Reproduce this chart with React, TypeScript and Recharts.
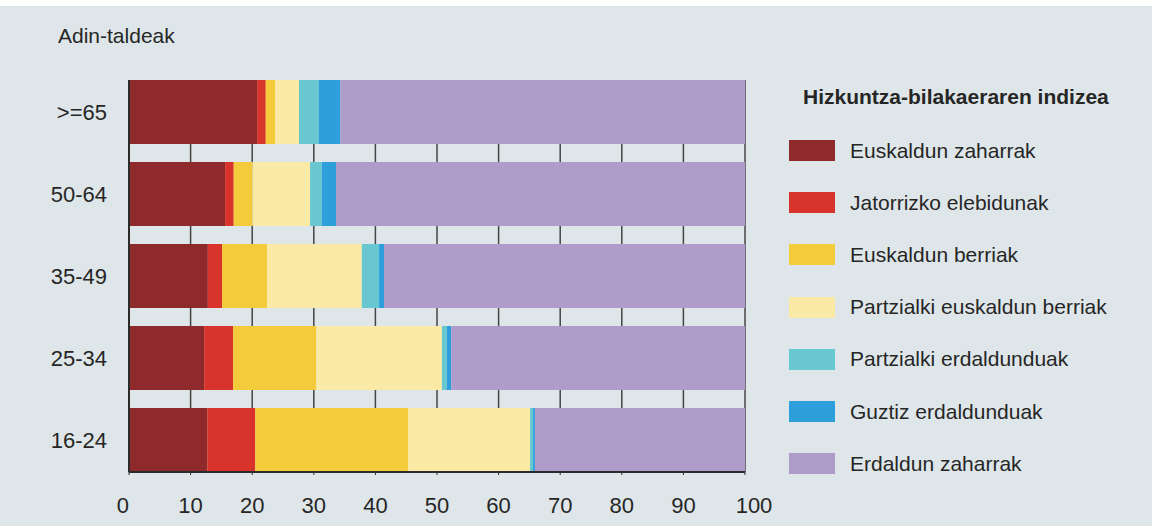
import { Bar, BarChart, CartesianGrid, Legend, XAxis, YAxis } from "recharts";

const ageGroups = [">=65", "50-64", "35-49", "25-34", "16-24"];

const euskaldunZaharrak = [20.8, 15.6, 12.8, 12.2, 12.7];
const jatorrizkoElebidunak = [1.4, 1.4, 2.3, 4.7, 7.8];
const euskaldunBerriak = [1.5, 3.0, 7.3, 13.5, 24.8];
const partzialkiEuskaldunBerriak = [3.9, 9.4, 15.4, 20.4, 19.8];
const partzialkiErdaldunduak = [3.2, 1.9, 2.8, 0.8, 0.5];
const guztizErdaldunduak = [3.5, 2.3, 0.8, 0.7, 0.3];
const erdaldunZaharrak = [65.7, 66.4, 58.6, 47.7, 34.1];

const xTicks = [0, 10, 20, 30, 40, 50, 60, 70, 80, 90, 100];

const SERIES = [
  { key: "ez", name: "Euskaldun zaharrak", color: "#8e2a2b", values: euskaldunZaharrak },
  { key: "je", name: "Jatorrizko elebidunak", color: "#d9342b", values: jatorrizkoElebidunak },
  { key: "eb", name: "Euskaldun berriak", color: "#f3cb3b", values: euskaldunBerriak },
  { key: "peb", name: "Partzialki euskaldun berriak", color: "#fbe9a6", values: partzialkiEuskaldunBerriak },
  { key: "pe", name: "Partzialki erdaldunduak", color: "#68c7d0", values: partzialkiErdaldunduak },
  { key: "ge", name: "Guztiz erdaldunduak", color: "#2d9fdb", values: guztizErdaldunduak },
  { key: "erz", name: "Erdaldun zaharrak", color: "#af9ccb", values: erdaldunZaharrak },
];

const data = ageGroups.map((age, i) => {
  const row: Record<string, string | number> = { age };
  SERIES.forEach((s) => {
    row[s.key] = s.values[i];
  });
  return row;
});

const FONT = "'Liberation Sans', Arial, sans-serif";
const TEXT = "#262626";

function XTick({ x, y, payload }: any) {
  const v = payload.value;
  return (
    <text
      x={x}
      y={y}
      dx={v === 100 ? 9 : 0}
      dy="0.71em"
      textAnchor={v === 0 ? "end" : "middle"}
      fontSize={22}
      fontFamily={FONT}
      fill={TEXT}
    >
      {v}
    </text>
  );
}

function LegendBox() {
  return (
    <div style={{ position: "relative", width: 360, height: 400, fontFamily: FONT, color: TEXT }}>
      <div
        style={{
          position: "absolute",
          left: 14,
          top: 5,
          fontSize: 21,
          lineHeight: "24px",
          fontWeight: "bold",
          whiteSpace: "nowrap",
        }}
      >
        Hizkuntza-bilakaeraren indizea
      </div>
      {SERIES.map((s, i) => (
        <div
          key={s.key}
          style={{
            position: "absolute",
            left: 0,
            top: 60 + i * 52.2,
            height: 21,
            display: "flex",
            alignItems: "center",
            whiteSpace: "nowrap",
          }}
        >
          <span style={{ display: "inline-block", width: 46, height: 21, background: s.color }} />
          <span style={{ marginLeft: 15, fontSize: 21 }}>{s.name}</span>
        </div>
      ))}
    </div>
  );
}

export default function App() {
  return (
    <div
      style={{
        position: "relative",
        width: 1152,
        height: 526,
        background: "linear-gradient(#ffffff 0px, #ffffff 6px, #dfe6e9 6px)",
        fontFamily: FONT,
      }}
    >
      <style>{"body{margin:0}"}</style>
      <div
        style={{
          position: "absolute",
          left: 58,
          top: 25,
          fontSize: 21,
          lineHeight: "21px",
          color: TEXT,
        }}
      >
        Adin-taldeak
      </div>
      <BarChart
        width={1152}
        height={526}
        data={data}
        layout="vertical"
        margin={{ top: 80, right: 407, left: 29, bottom: 24 }}
      >
        <CartesianGrid horizontal={false} vertical stroke="#444" strokeWidth={1.5} />
        <XAxis
          type="number"
          domain={[0, 100]}
          ticks={xTicks}
          interval={0}
          height={30}
          tickSize={3}
          tickMargin={22}
          tick={<XTick />}
          axisLine={{ stroke: "#2b2b2b", strokeWidth: 2 }}
          tickLine={{ stroke: "#2b2b2b" }}
        />
        <XAxis
          xAxisId="top"
          orientation="top"
          type="number"
          domain={[0, 100]}
          height={0}
          tick={false}
          tickLine={false}
          axisLine={{ stroke: "#3a2a2e", strokeWidth: 2 }}
        />
        <YAxis
          type="category"
          dataKey="age"
          width={100}
          padding={{ top: -9, bottom: -9 }}
          tickSize={0}
          tickMargin={22}
          tick={{ fontSize: 22, fill: TEXT, fontFamily: FONT }}
          axisLine={{ stroke: "#2b2b2b", strokeWidth: 2 }}
          tickLine={false}
        />
        <YAxis
          yAxisId="right"
          orientation="right"
          type="category"
          dataKey="age"
          width={0}
          padding={{ top: -9, bottom: -9 }}
          tick={false}
          tickLine={false}
          axisLine={{ stroke: "#2b2b2b", strokeWidth: 2 }}
        />
        <Legend
          layout="vertical"
          align="center"
          verticalAlign="middle"
          wrapperStyle={{ left: 789, top: 80, width: 360 }}
          content={() => <LegendBox />}
        />
        {SERIES.map((s) => (
          <Bar
            key={s.key}
            dataKey={s.key}
            name={s.name}
            stackId="a"
            fill={s.color}
            barSize={64}
            isAnimationActive={false}
          />
        ))}
      </BarChart>
    </div>
  );
}
